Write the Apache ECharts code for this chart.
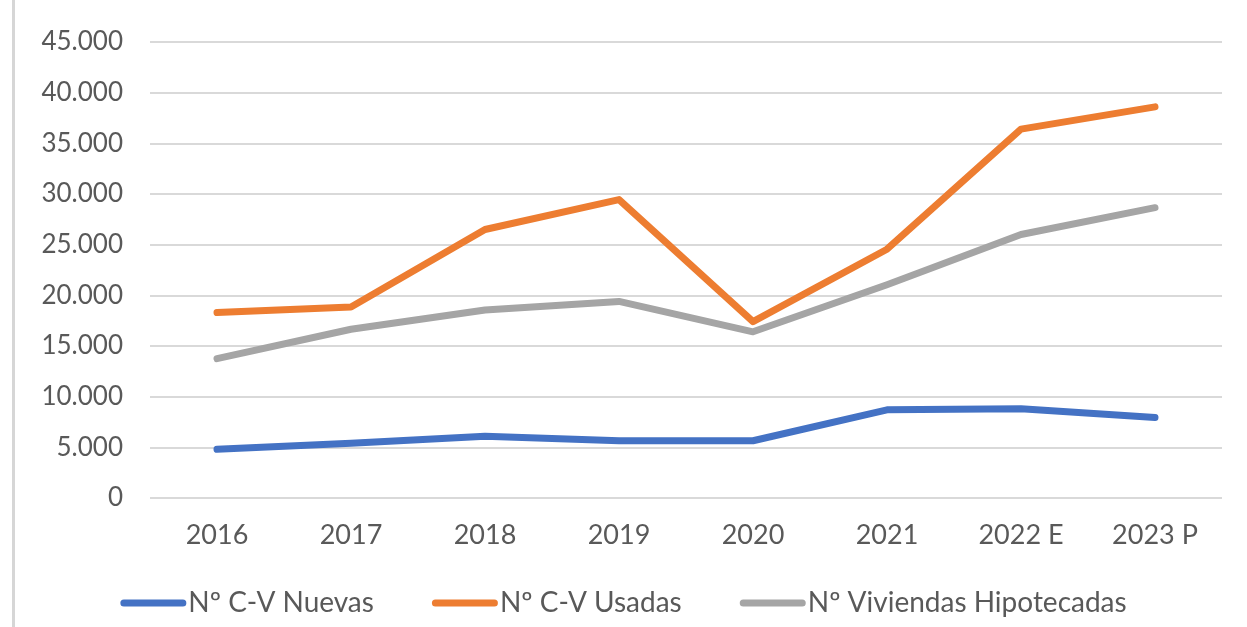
<!DOCTYPE html>
<html>
<head>
<meta charset="utf-8">
<script src="https://cdn.jsdelivr.net/npm/echarts@6/dist/echarts.min.js"></script>
<style>
  html, body { margin: 0; padding: 0; background: #fff; }
  #chart { width: 1247px; height: 627px; }
  .frame-left {
    position: absolute;
    left: 12px;
    top: 0;
    width: 3px;
    height: 627px;
    background: #d6d6d6;
  }
</style>
</head>
<body>
<div class="frame-left"></div>
<div id="chart"></div>
<script>
const categories = ["2016", "2017", "2018", "2019", "2020", "2021", "2022 E", "2023 P"];
const nuevas = [4800, 5400, 6100, 5650, 5650, 8700, 8800, 7950];
const usadas = [18300, 18850, 26500, 29450, 17400, 24550, 36400, 38600];
const hipotecadas = [13750, 16650, 18550, 19400, 16400, 21050, 26000, 28650];
const seriesNames = ["Nº C-V Nuevas", "Nº C-V Usadas", "Nº Viviendas Hipotecadas"];

const textColor = "#595959";
const fontFamily = "Lato, 'Open Sans', sans-serif";

const chart = echarts.init(document.getElementById("chart"));

const lineSeries = (name, data, color) => ({
  name,
  type: "line",
  data,
  symbol: "none",
  color,
  lineStyle: {
    color,
    width: 7,
    cap: "round",
    join: "round",
  },
});

chart.setOption({
  animation: false,
  textStyle: { fontFamily },
  grid: {
    left: 150,
    right: 25,
    top: 42,
    bottom: 129,
  },
  legend: {
    bottom: 5,
    left: "center",
    itemWidth: 66,
    itemHeight: 7,
    itemGap: 58,
    icon: "path://M3.5,0H62.5A3.5,3.5,0,0,1,62.5,7H3.5A3.5,3.5,0,0,1,3.5,0Z",
    textStyle: {
      color: textColor,
      fontSize: 28,
      padding: [0, 0, 0, -3],
    },
    data: seriesNames,
  },
  xAxis: {
    type: "category",
    data: categories,
    axisLine: { show: false },
    axisTick: { show: false },
    axisLabel: {
      color: textColor,
      fontSize: 27,
      margin: 24,
    },
  },
  yAxis: {
    type: "value",
    min: 0,
    max: 45000,
    interval: 5000,
    axisLine: { show: false },
    axisTick: { show: false },
    splitLine: {
      lineStyle: { color: "#d9d9d9", width: 2 },
    },
    axisLabel: {
      color: textColor,
      fontSize: 26,
      margin: 27,
      formatter: (v) => v.toLocaleString("de-DE"),
    },
  },
  series: [
    lineSeries(seriesNames[0], nuevas, "#4472C4"),
    lineSeries(seriesNames[1], usadas, "#ED7D31"),
    lineSeries(seriesNames[2], hipotecadas, "#A5A5A5"),
  ],
});

window.addEventListener("resize", () => chart.resize());
</script>
</body>
</html>
